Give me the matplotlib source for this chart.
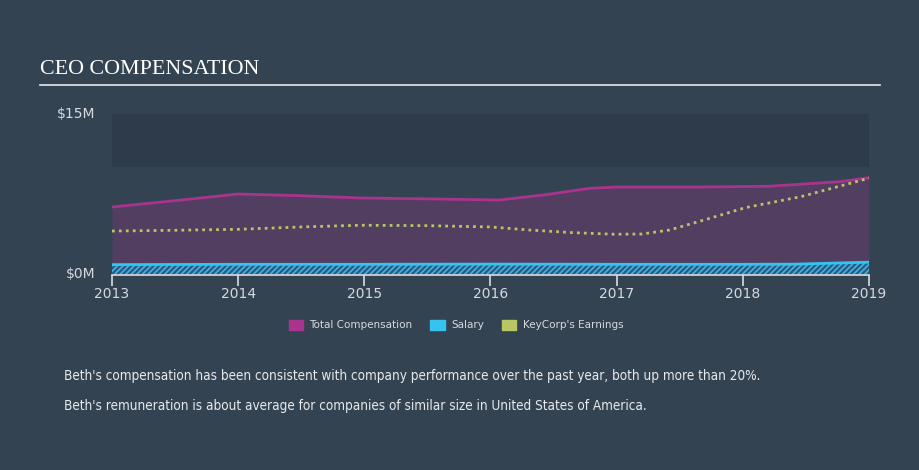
import matplotlib.pyplot as plt

# values (years as decimals, $M)
comp_years = [2013.0, 2013.5, 2014.0, 2014.5, 2014.97, 2015.52, 2016.07,
              2016.42, 2016.79, 2017.0, 2017.66, 2018.21, 2018.77, 2019.0]
total_comp = [6.29, 6.88, 7.50, 7.34, 7.13, 7.04, 6.94,
              7.41, 8.03, 8.15, 8.15, 8.22, 8.65, 9.02]

salary_years = [2013.0, 2014.0, 2015.0, 2016.0, 2017.0, 2018.0, 2018.4, 2019.0]
salary = [0.92, 0.95, 0.95, 0.97, 0.95, 0.95, 0.96, 1.15]

earn_years = [2013.0, 2013.5, 2014.0, 2014.5, 2014.97, 2015.5, 2016.0, 2016.3,
              2016.65, 2016.98, 2017.2, 2017.42, 2017.74, 2018.02, 2018.46, 2019.0]
earnings = [4.05, 4.12, 4.21, 4.43, 4.59, 4.55, 4.43, 4.15,
            3.90, 3.75, 3.77, 4.15, 5.24, 6.23, 7.25, 8.97]

year_ticks = [2013, 2014, 2015, 2016, 2017, 2018, 2019]
legend_labels = ["Total Compensation", "Salary", "KeyCorp's Earnings"]
notes = ["Beth's compensation has been consistent with company performance over the past year, both up more than 20%.",
         "Beth's remuneration is about average for companies of similar size in United States of America."]

BG = '#344352'
TXT = '#d5dae0'
C_COMP = '#a9338f'
C_SAL = '#35c3ef'
C_EARN = '#b9c664'

plt.rcParams['hatch.linewidth'] = 1.2

fig = plt.figure(figsize=(9.2, 4.7), dpi=100, facecolor=BG)

# title and rule
fig.text(40 / 920, 1 - 70 / 470, 'CEO COMPENSATION', family='Liberation Serif',
         fontsize=15.8, color='white', va='center', ha='left')
fig.add_artist(plt.Line2D([40 / 920, 880 / 920], [1 - 85 / 470, 1 - 85 / 470],
                          color='#e8ebee', lw=1.2))

ax = fig.add_axes([112 / 920, 1 - 274.5 / 470, (869 - 112) / 920, 161 / 470])
ax.set_facecolor(BG)
ax.axhspan(10, 15, color='#2e3b4a', lw=0, zorder=0)

ax.fill_between(comp_years, 0, total_comp, color='#513e60', lw=0, zorder=1)
ax.plot(comp_years, total_comp, color=C_COMP, lw=2, zorder=3)

ax.fill_between(salary_years, 0, salary, facecolor='#2c5a7c', edgecolor='#3fb3ea',
                hatch='//////', lw=0, zorder=2)
ax.plot(salary_years, salary, color=C_SAL, lw=2, zorder=3)

ax.plot(earn_years, earnings, color=C_EARN, lw=2, ls=(0, (1, 1.5)), zorder=4)

ax.set_xlim(2013, 2019)
ax.set_ylim(0, 15)
for s in ['top', 'right', 'left']:
    ax.spines[s].set_visible(False)
ax.spines['bottom'].set_color('#d8dde3')
ax.spines['bottom'].set_linewidth(1.2)
ax.set_xticks(year_ticks)
ax.set_xticklabels([str(y) for y in year_ticks])
ax.tick_params(axis='x', colors='#d8dde3', labelcolor=TXT, labelsize=10,
               length=8, width=1.2, pad=1)
ax.set_yticks([0, 15])
ax.set_yticklabels(['$0M', '$15M'])
ax.tick_params(axis='y', length=0, labelcolor=TXT, labelsize=10, pad=14)
for lbl in ax.get_yticklabels():
    lbl.set_verticalalignment('center')
ax.tick_params(axis='y', pad=12)

handles = [plt.Rectangle((0, 0), 1, 1, color=c) for c in (C_COMP, C_SAL, C_EARN)]
leg = fig.legend(handles, legend_labels, loc='center', bbox_to_anchor=(456 / 920, 1 - 325 / 470),
                 ncol=3, frameon=False, fontsize=7.5, handlelength=1.4, handleheight=1.1,
                 handletextpad=0.6, columnspacing=1.7)
for t in leg.get_texts():
    t.set_color(TXT)

# footer notes, squeezed to the width of the reference's condensed face
texts = []
for i, note in enumerate(notes):
    texts.append(fig.text(64 / 920, 1 - (376 + 30 * i) / 470, note, family='DejaVu Sans',
                          fontstretch='condensed', fontsize=10.5, color='#e6e9ec', va='center'))
fig.canvas.draw()
w = texts[0].get_window_extent().width
size = 10.5 * 706 / w
for t in texts:
    t.set_fontsize(size)

fig.savefig('out.png', dpi=100, facecolor=BG)
